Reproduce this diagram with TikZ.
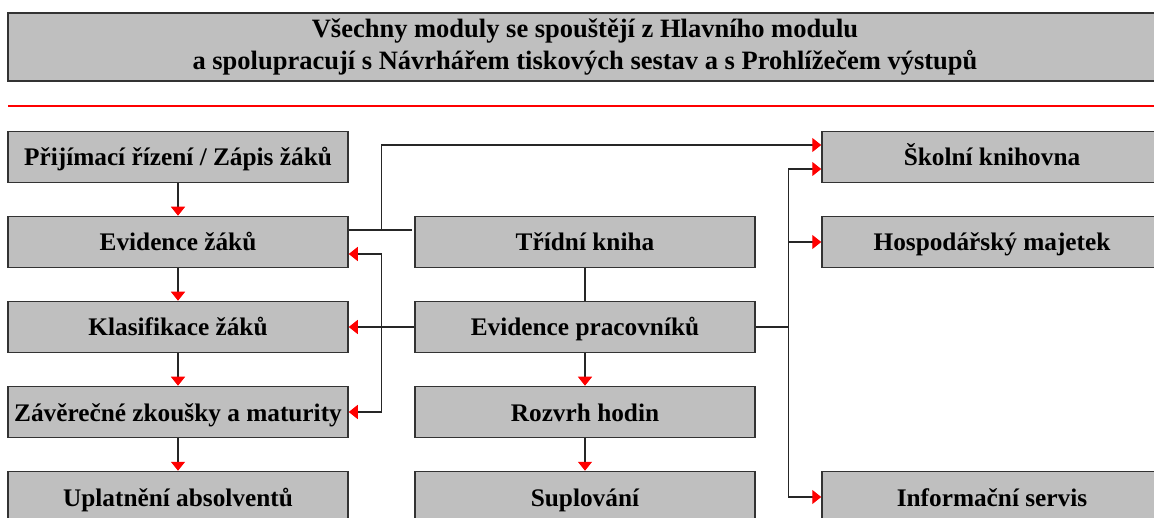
\documentclass[tikz,border=0pt]{standalone}
\usepackage{fontspec}
\setmainfont{Liberation Serif}
\usetikzlibrary{arrows.meta,positioning,calc}

\tikzset{
  modul/.style={draw=black!80,line width=1.5pt,fill=black!25,minimum width=340pt,
    minimum height=51pt,inner sep=0pt,text height=22pt,text depth=4pt,
    font=\bfseries\fontsize{25.3}{28}\selectfont},
  spoj/.style={draw=black!85,line width=1.3pt},
  sipka/.style={spoj,-{Triangle[red,length=9pt,width=14pt]}},
}

\begin{document}
\begin{tikzpicture}[x=1pt,y=-1pt,node distance=32.5pt and 65.5pt]
    \useasboundingbox (0,0) rectangle (1154,518);
    \clip (0,0) rectangle (1154,518);
    % ===== header =====
    \node[modul,minimum width=1154pt,minimum height=68pt,align=center,
      text height=,text depth=,
      font=\bfseries\fontsize{26.5}{32}\selectfont] (hlavni) at (585,47)
      {Všechny moduly se spouštějí z Hlavního modulu\\a spolupracují s Návrhářem tiskových sestav a s Prohlížečem výstupů};
    \draw[red,line width=1.3pt] (8,106) -- (1160,106);
    % ===== left column =====
    \node[modul] (prijem) at (178,157) {Přijímací řízení / Zápis žáků};
    \node[modul,below=of prijem] (evzaku) {Evidence žáků};
    \node[modul,below=of evzaku] (klas) {Klasifikace žáků};
    \node[modul,below=of klas] (zaver) {Závěrečné zkoušky a maturity};
    \node[modul,below=of zaver] (uplat) {Uplatnění absolventů};
    % ===== middle column =====
    \node[modul,right=of evzaku] (trida) {Třídní kniha};
    \node[modul,right=of klas] (evprac) {Evidence pracovníků};
    \node[modul,right=of zaver] (rozvrh) {Rozvrh hodin};
    \node[modul,right=of uplat] (supl) {Suplování};
    % ===== right column =====
    \node[modul,right=of trida] (hosp) {Hospodářský majetek};
    \node[modul,above=of hosp] (skolni) {Školní knihovna};
    \node[modul,right=of supl] (info) {Informační servis};
    % ===== connectors =====
    \draw[sipka] (prijem) -- (evzaku);
    \draw[sipka] (evzaku) -- (klas);
    \draw[sipka] (klas) -- (zaver);
    \draw[sipka] (zaver) -- (uplat);
    \draw[sipka] (evprac) -- (rozvrh);
    \draw[sipka] (rozvrh) -- (supl);
    \draw[spoj] (trida) -- (evprac);
    \coordinate (uzelL) at ($([yshift=12pt]evzaku.east)+(33,0)$);
    \draw[spoj] ([yshift=12pt]evzaku.east) -- ([yshift=12pt,xshift=-2pt]trida.west);
    \draw[sipka] (uzelL) |- ([yshift=12pt]skolni.west);
    \coordinate (busL) at ($(klas.east)!0.5!(evprac.west)$);
    \draw[sipka] (evprac.west) -- (klas.east);
    \draw[sipka] (busL) |- ([yshift=-12pt]evzaku.east);
    \draw[sipka] (busL) |- (zaver.east);
    \coordinate (busR) at ($(evprac.east)+(33,0)$);
    \draw[spoj] (evprac.east) -- (busR);
    \draw[sipka] (busR) |- ([yshift=-12pt]skolni.west);
    \draw[sipka] (busR) |- (hosp.west);
    \draw[sipka] (busR) |- (info.west);
\end{tikzpicture}
\end{document}
